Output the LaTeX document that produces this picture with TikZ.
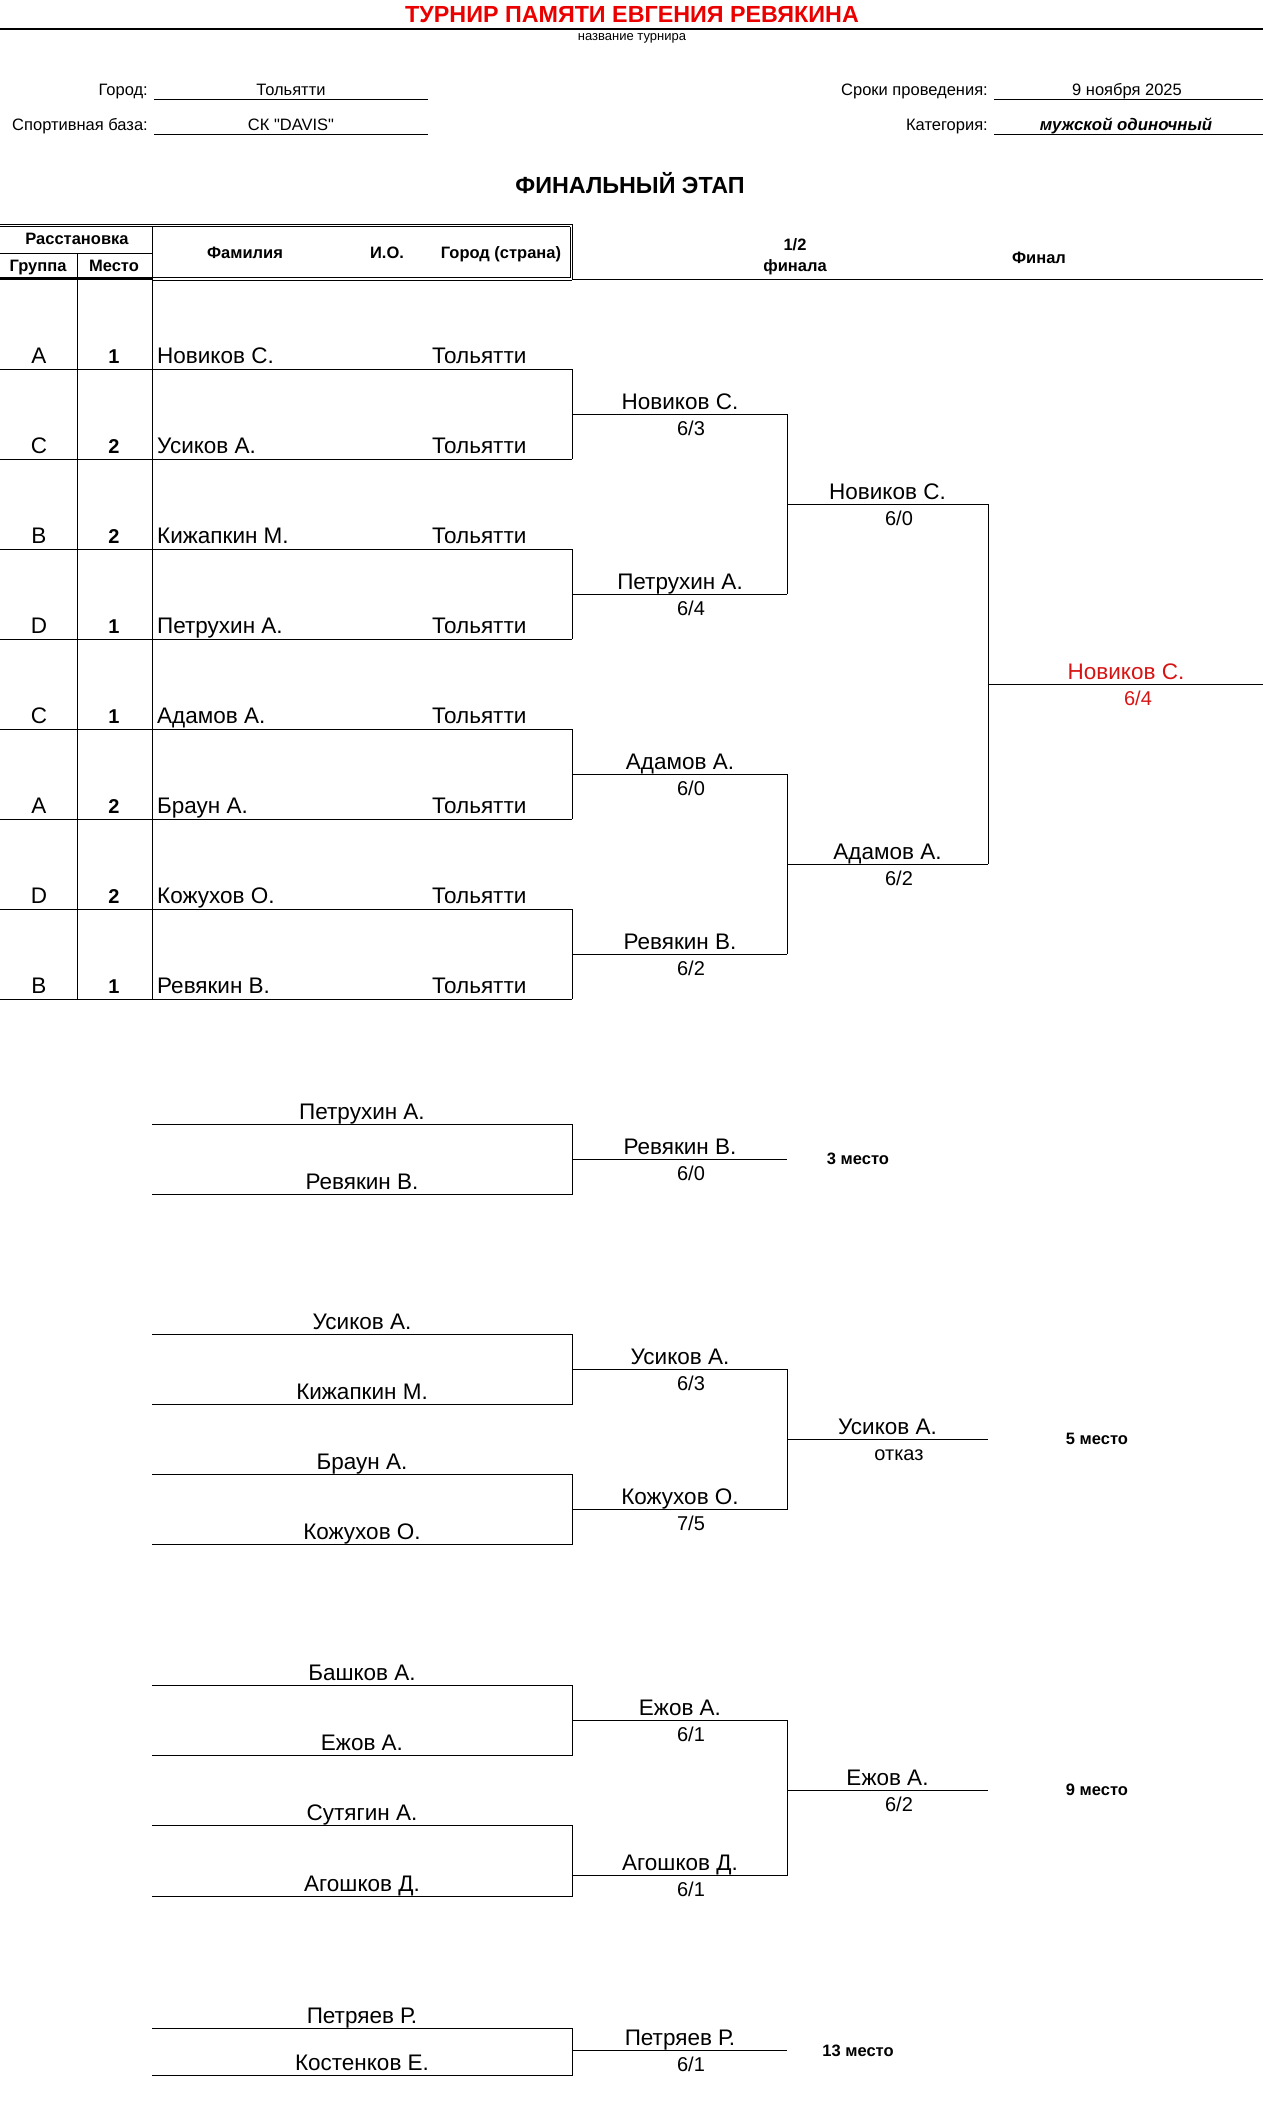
\documentclass[tikz,border=0pt]{standalone}
\usepackage{fontspec}
\setmainfont{Liberation Sans}[Ligatures=TeXOff]
\definecolor{tred}{RGB}{235,0,0}
\definecolor{fred}{RGB}{215,20,20}
\begin{document}
\begin{tikzpicture}[x=1pt,y=-1pt,
  ln/.style={line width=1pt},
  thn/.style={line width=0.8pt},
  nm/.style={anchor=base,inner sep=0pt,font=\fontsize{22.5}{27}\selectfont},
  nml/.style={anchor=base west,inner sep=0pt,font=\fontsize{22.5}{27}\selectfont},
  sc/.style={anchor=base,inner sep=0pt,font=\fontsize{20}{24}\selectfont},
  hb/.style={anchor=base,inner sep=0pt,font=\bfseries\fontsize{16.5}{19}\selectfont},
  lab/.style={anchor=base east,inner sep=0pt,font=\fontsize{16.5}{19}\selectfont},
  val/.style={anchor=base,inner sep=0pt,font=\fontsize{16.5}{19}\selectfont},
  pl/.style={anchor=center,inner sep=0pt,font=\bfseries\fontsize{16.5}{19}\selectfont},
  dg/.style={anchor=base,inner sep=0pt,font=\bfseries\fontsize{20}{24}\selectfont},
]
\useasboundingbox (0,0) rectangle (1263,2120);
% ---------- header ----------
\node[anchor=base,inner sep=0pt,text=tred,font=\bfseries\fontsize{23.3}{27}\selectfont] (title) at (632,23) {ТУРНИР ПАМЯТИ ЕВГЕНИЯ РЕВЯКИНА};
\draw[line width=1.3pt] (0,29) -- (1263,29);
\node[anchor=base,inner sep=0pt,font=\fontsize{13}{15}\selectfont] (sub) at (632,40) {название турнира};
\node[lab] (lcity) at (148,95) {Город:};
\node[val] (vcity) at (291,95) {Тольятти};
\draw[ln] (154,99) -- (428,99);
\node[lab] (lbase) at (148,130) {Спортивная база:};
\node[val] (vbase) at (291,130) {СК "DAVIS"};
\draw[ln] (154,134) -- (428,134);
\node[lab] (ldate) at (988,95) {Сроки проведения:};
\node[val] (vdate) at (1127,95) {9 ноября 2025};
\draw[ln] (994,99) -- (1263,99);
\node[lab] (lcat) at (988,130) {Категория:};
\node[val,font=\bfseries\itshape\fontsize{16.8}{19}\selectfont] (vcat) at (1126,130) {мужской одиночный};
\draw[ln] (994,134) -- (1263,134);
\node[anchor=base,inner sep=0pt,font=\bfseries\fontsize{23.3}{27}\selectfont] (stage) at (630,193) {ФИНАЛЬНЫЙ ЭТАП};
% ---------- table header ----------
\draw[thn] (0,224) -- (572,224) (0,226.5) -- (570,226.5);
\draw[thn] (572,224) -- (572,280) (570,226.5) -- (570,277.5);
\draw[thn] (152,277.5) -- (570,277.5) (152,280) -- (572,280);
\draw[line width=3pt] (0,278.5) -- (152,278.5);
\draw[ln] (572,279) -- (1263,279);
\draw[ln] (0,253) -- (152,253);
\draw[ln] (152,226.5) -- (152,999);
\draw[ln] (77,253) -- (77,999);
\node[hb] (hr) at (77,244) {Расстановка};
\node[hb] (hg) at (38,271) {Группа};
\node[hb] (hm) at (114,271) {Место};
\node[hb] (hf) at (245,258) {Фамилия};
\node[hb] (hi) at (387,258) {И.О.};
\node[hb] (hc) at (501,258) {Город (страна)};
\node[hb] (hs1) at (795,250) {1/2};
\node[hb] (hs2) at (795,271) {финала};
\node[hb] (hfin) at (1039,263) {Финал};
% ---------- rows ----------
\foreach \g/\p/\n [count=\i from 0] in {A/1/Новиков С.,C/2/Усиков А.,B/2/Кижапкин М.,D/1/Петрухин А.,C/1/Адамов А.,A/2/Браун А.,D/2/Кожухов О.,B/1/Ревякин В.}{
  \pgfmathsetmacro\yb{369+90*\i}
  \draw[ln] (0,\yb) -- (572,\yb);
  \node[nm] (g\i) at (39,\yb-6) {\g};
  \node[dg] (p\i) at (114,\yb-6) {\p};
  \node[nml] (n\i) at (157,\yb-6) {\n};
  \node[nml] (c\i) at (432,\yb-6) {Тольятти};
}
\foreach \i in {0,1,2,3}{
  \pgfmathsetmacro\ya{369+180*\i}
  \pgfmathsetmacro\yc{459+180*\i}
  \draw[ln] (572,\ya) -- (572,\yc);
}
% semifinal
\draw[ln] (572,414) -- (787,414) (572,594) -- (787,594) (572,774) -- (787,774) (572,954) -- (787,954);
\node[nm] (s0) at (680,409) {Новиков С.};
\node[sc] (ss0) at (691,435) {6/3};
\node[nm] (s1) at (680,589) {Петрухин А.};
\node[sc] (ss1) at (691,615) {6/4};
\node[nm] (s2) at (680,769) {Адамов А.};
\node[sc] (ss2) at (691,795) {6/0};
\node[nm] (s3) at (680,949) {Ревякин В.};
\node[sc] (ss3) at (691,975) {6/2};
\draw[ln] (787,414) -- (787,594) (787,774) -- (787,954);
% final round
\draw[ln] (787,504) -- (988,504) (787,864) -- (988,864);
\node[nm] (f0) at (887.5,499) {Новиков С.};
\node[sc] (fs0) at (899,525) {6/0};
\node[nm] (f1) at (887.5,859) {Адамов А.};
\node[sc] (fs1) at (899,885) {6/2};
\draw[ln] (988,504) -- (988,864);
\draw[ln] (988,684) -- (1263,684);
\node[nm,text=fred] (win) at (1126,679) {Новиков С.};
\node[sc,text=fred] (wins) at (1138,705) {6/4};
% ---------- 3rd place ----------
\draw[ln] (152,1124) -- (572,1124) -- (572,1194) -- (152,1194);
\draw[ln] (572,1159) -- (787,1159);
\node[nm] (t1) at (362,1119) {Петрухин А.};
\node[nm] (t2) at (362,1189) {Ревякин В.};
\node[nm] (tw) at (680,1154) {Ревякин В.};
\node[sc] (tws) at (691,1180) {6/0};
\node[pl] (tp) at (858,1159) {3 место};
% ---------- 5th place ----------
\draw[ln] (152,1334) -- (572,1334) -- (572,1404) -- (152,1404);
\draw[ln] (152,1474) -- (572,1474) -- (572,1544) -- (152,1544);
\draw[ln] (572,1369) -- (787,1369) -- (787,1509) -- (572,1509);
\draw[ln] (787,1439) -- (988,1439);
\node[nm] (a1) at (362,1329) {Усиков А.};
\node[nm] (a2) at (362,1399) {Кижапкин М.};
\node[nm] (a3) at (362,1469) {Браун А.};
\node[nm] (a4) at (362,1539) {Кожухов О.};
\node[nm] (aw1) at (680,1364) {Усиков А.};
\node[sc] (aws1) at (691,1390) {6/3};
\node[nm] (aw2) at (680,1504) {Кожухов О.};
\node[sc] (aws2) at (691,1530) {7/5};
\node[nm] (af) at (887.5,1434) {Усиков А.};
\node[sc] (afs) at (899,1460) {отказ};
\node[pl] (ap) at (1097,1439) {5 место};
% ---------- 9th place ----------
\draw[ln] (152,1685) -- (572,1685) -- (572,1755) -- (152,1755);
\draw[ln] (152,1825) -- (572,1825) -- (572,1896) -- (152,1896);
\draw[ln] (572,1720) -- (787,1720) -- (787,1875) -- (572,1875);
\draw[ln] (787,1790) -- (988,1790);
\node[nm] (b1) at (362,1680) {Башков А.};
\node[nm] (b2) at (362,1750) {Ежов А.};
\node[nm] (b3) at (362,1820) {Сутягин А.};
\node[nm] (b4) at (362,1891) {Агошков Д.};
\node[nm] (bw1) at (680,1715) {Ежов А.};
\node[sc] (bws1) at (691,1741) {6/1};
\node[nm] (bw2) at (680,1870) {Агошков Д.};
\node[sc] (bws2) at (691,1896) {6/1};
\node[nm] (bf) at (887.5,1785) {Ежов А.};
\node[sc] (bfs) at (899,1811) {6/2};
\node[pl] (bp) at (1097,1790) {9 место};
% ---------- 13th place ----------
\draw[ln] (152,2028) -- (572,2028) -- (572,2075) -- (152,2075);
\draw[ln] (572,2050) -- (787,2050);
\node[nm] (d1) at (362,2023) {Петряев Р.};
\node[nm] (d2) at (362,2070) {Костенков Е.};
\node[nm] (dw) at (680,2045) {Петряев Р.};
\node[sc] (dws) at (691,2071) {6/1};
\node[pl] (dp) at (858,2051) {13 место};
\end{tikzpicture}
\end{document}
